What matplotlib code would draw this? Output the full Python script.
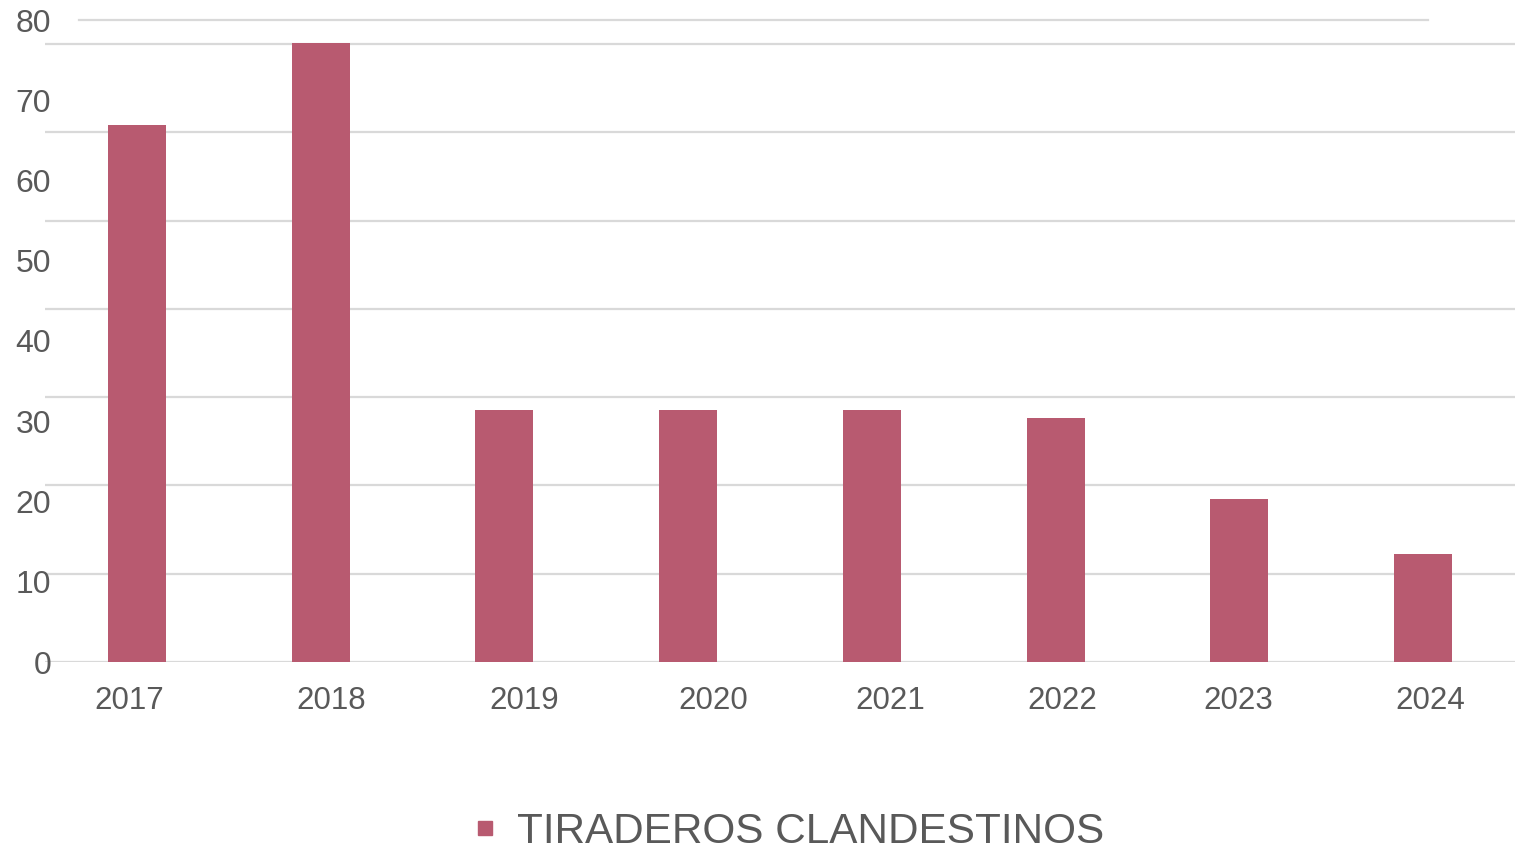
import numpy as np
import matplotlib
matplotlib.use("Agg")
import matplotlib.pyplot as plt
from matplotlib.lines import Line2D

# data
years = ["2017", "2018", "2019", "2020", "2021", "2022", "2023", "2024"]
tiraderos = [66.9, 77.1, 31.4, 31.4, 31.4, 30.4, 20.3, 13.5]
y_labels = [0, 10, 20, 30, 40, 50, 60, 70, 80]
grid_levels = [0, 11, 22, 33, 44, 55, 66, 77]
series_name = "TIRADEROS CLANDESTINOS"

# year labels sit a little off the bar centres in the original
label_shift = [-0.04, 0.056, 0.107, 0.136, 0.099, 0.035, -0.006, 0.04]

BAR_COLOR = "#b85a70"
TEXT_COLOR = "#595959"
GRID_COLOR = "#d9d9d9"

plt.rcParams["font.family"] = ["Liberation Sans", "DejaVu Sans"]

fig = plt.figure(figsize=(15.27, 8.49), dpi=100)
ax = fig.add_axes([45 / 1527, 187 / 849, 1470 / 1527, 642 / 849])

x = np.arange(len(years))
ax.bar(x, tiraderos, width=0.316, color=BAR_COLOR, zorder=3)

ax.set_xlim(-0.5, len(years) - 0.5)
ax.set_ylim(0, 80)

# y labels every 10, gridlines every 11 (as in the source image)
ax.set_yticks(y_labels)
ax.set_yticklabels([str(v) for v in y_labels])
ax.set_yticks(grid_levels, minor=True)
ax.tick_params(axis="y", which="both", length=0)
ax.tick_params(axis="y", which="major", labelsize=23, labelcolor=TEXT_COLOR, pad=-4.5)
ax.grid(False)
for lvl in grid_levels:
    ax.axhline(lvl, color=GRID_COLOR, lw=1.6, zorder=1)
ax.axhline(80, xmin=0.023, xmax=0.941, color=GRID_COLOR, lw=1.6, zorder=1, clip_on=False)

ax.set_xticks(x + np.array(label_shift))
ax.set_xticklabels(years)
ax.tick_params(axis="x", length=0, labelsize=22.5, labelcolor=TEXT_COLOR, pad=17)

for s in ax.spines.values():
    s.set_visible(False)

handle = Line2D([], [], marker="s", linestyle="none", markersize=10.5,
                color=BAR_COLOR)
fig.legend([handle], [series_name], loc="center", bbox_to_anchor=(786 / 1527, 1 - 832 / 849),
           frameon=False, fontsize=30.4, labelcolor=TEXT_COLOR, handletextpad=0.35,
           borderpad=0, handlelength=0.8)

fig.savefig("out.png", dpi=100)
